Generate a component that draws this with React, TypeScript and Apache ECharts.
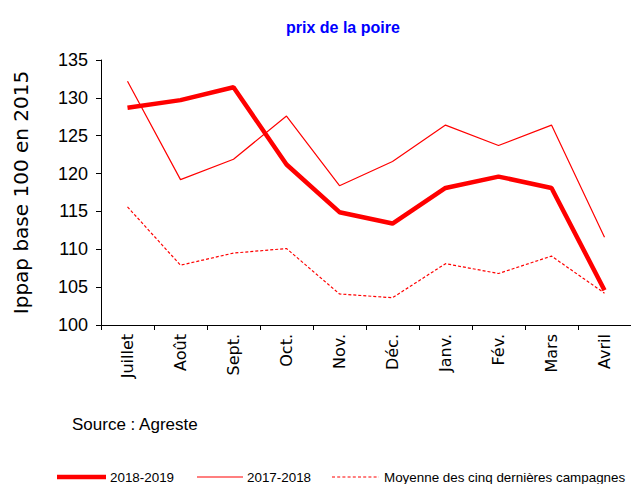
import React, { useEffect, useRef } from "react";
import * as echarts from "echarts";

const categories = ["Juillet", "Août", "Sept.", "Oct.", "Nov.", "Déc.", "Janv.", "Fév.", "Mars", "Avril"];
const s2018_2019 = [128.7, 129.7, 131.4, 121.2, 114.9, 113.4, 118.1, 119.6, 118.1, 104.6];
const s2017_2018 = [132.2, 119.2, 121.9, 127.6, 118.4, 121.6, 126.4, 123.7, 126.4, 111.6];
const sMoyenne = [115.6, 107.9, 109.5, 110.1, 104.1, 103.6, 108.1, 106.8, 109.1, 104.2];
const seriesNames = ["2018-2019", "2017-2018", "Moyenne des cinq dernières campagnes"];
const titleText = "prix de la poire";
const yAxisTitle = "Ippap base 100 en 2015";
const sourceText = "Source : Agreste";

const SANS = "'Liberation Sans', Arial, sans-serif";
const WIDE = "'DejaVu Sans', 'Liberation Sans', sans-serif";

const legendItems = [
  { x: 57, w: 49, tx: 110, width: 4.5, dash: null as number[] | null },
  { x: 197, w: 46, tx: 247, width: 1.2, dash: null as number[] | null },
  { x: 332, w: 47, tx: 384, width: 1.2, dash: [3, 2.2] },
];

export default function App() {
  const ref = useRef<HTMLDivElement>(null);
  useEffect(() => {
    if (!ref.current) return;
    const chart = echarts.init(ref.current, undefined, { renderer: "svg" });
    const legendY = 477;
    const legendGraphics: any[] = [];
    legendItems.forEach((it, i) => {
      legendGraphics.push({
        type: "line",
        shape: { x1: it.x, y1: legendY, x2: it.x + it.w, y2: legendY },
        style: { stroke: "#ff0000", lineWidth: it.width, lineDash: it.dash || undefined },
      });
      legendGraphics.push({
        type: "text",
        x: it.tx,
        y: legendY,
        style: {
          text: seriesNames[i],
          fill: "#000",
          font: `13.4px ${SANS}`,
          verticalAlign: "middle",
          align: "left",
        },
      });
    });
    chart.setOption({
      animation: false,
      backgroundColor: "#ffffff",
      title: {
        text: titleText,
        left: 281,
        top: 14,
        textStyle: { color: "#0000ff", fontFamily: SANS, fontSize: 16, fontWeight: "bold" },
      },
      grid: { left: 101, right: 0, top: 60, bottom: 159, containLabel: false },
      xAxis: {
        type: "category",
        data: categories,
        boundaryGap: true,
        axisLine: { lineStyle: { color: "#000", width: 1 } },
        axisTick: { show: true, interval: 0, length: 5, lineStyle: { color: "#000" } },
        axisLabel: { interval: 0, rotate: 90, margin: 9, color: "#000", fontFamily: WIDE, fontSize: 16 },
        splitLine: { show: false },
      },
      yAxis: {
        type: "value",
        min: 100,
        max: 135,
        interval: 5,
        name: yAxisTitle,
        nameLocation: "middle",
        nameGap: 70,
        nameRotate: 90,
        nameTextStyle: { color: "#000", fontFamily: WIDE, fontSize: 20 },
        axisLine: { show: true, lineStyle: { color: "#000", width: 1 } },
        axisTick: { show: true, length: 5, lineStyle: { color: "#000" } },
        axisLabel: { margin: 13, color: "#000", fontFamily: SANS, fontSize: 18 },
        splitLine: { show: false },
      },
      graphic: [
        {
          type: "text",
          x: 72,
          y: 424,
          style: { text: sourceText, fill: "#000", font: `17px ${SANS}`, verticalAlign: "middle" },
        },
        ...legendGraphics,
      ],
      series: [
        {
          name: seriesNames[0],
          type: "line",
          data: s2018_2019,
          symbol: "none",
          lineStyle: { color: "#ff0000", width: 4.5 },
          itemStyle: { color: "#ff0000" },
          z: 3,
        },
        {
          name: seriesNames[1],
          type: "line",
          data: s2017_2018,
          symbol: "none",
          lineStyle: { color: "#ff0000", width: 1.2 },
          itemStyle: { color: "#ff0000" },
          z: 2,
        },
        {
          name: seriesNames[2],
          type: "line",
          data: sMoyenne,
          symbol: "none",
          lineStyle: { color: "#ff0000", width: 1.2, type: [3, 2] },
          itemStyle: { color: "#ff0000" },
          z: 2,
        },
      ],
    });
    return () => chart.dispose();
  }, []);
  return <div ref={ref} style={{ position: "fixed", left: 0, top: 0, width: 631, height: 484 }} />;
}
